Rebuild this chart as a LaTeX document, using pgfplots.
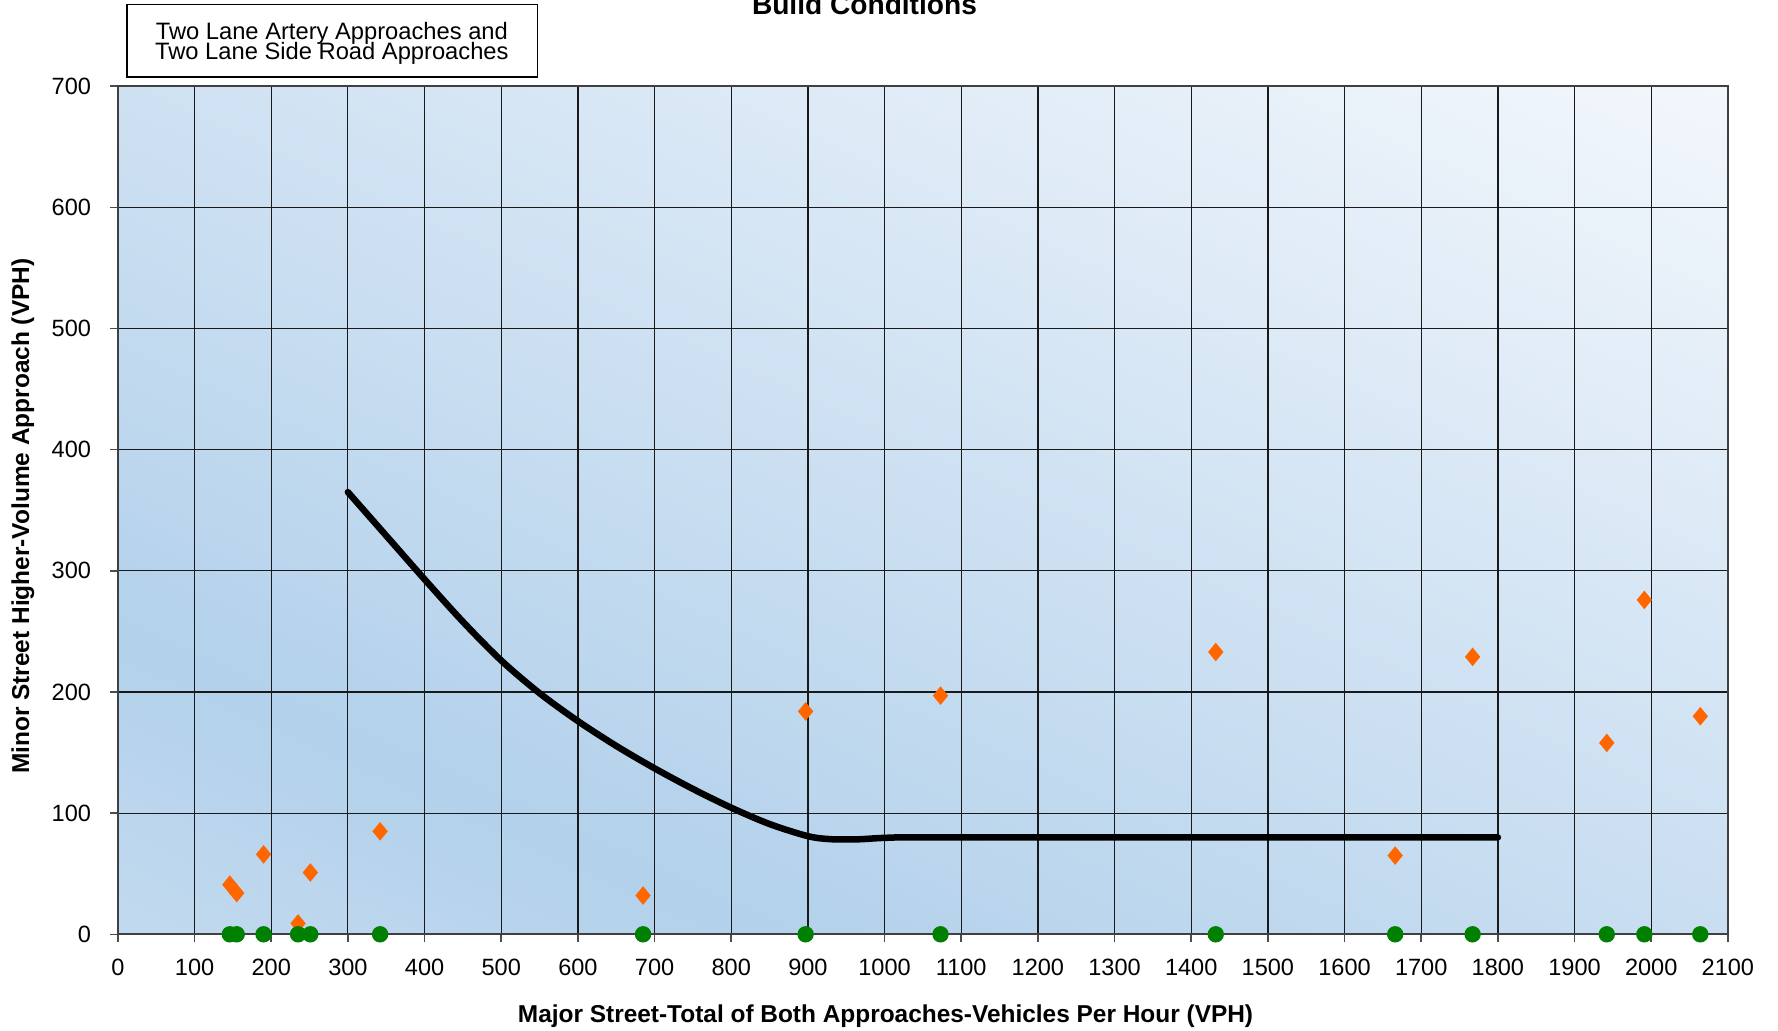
\documentclass[border=0pt]{standalone}
\usepackage{fontspec}
\setmainfont{Liberation Sans}
\usepackage{pgfplots}
\pgfplotsset{compat=1.18}

\definecolor{markorange}{HTML}{FF6600}
\definecolor{markgreen}{HTML}{008000}

% diagonal background: darkest along a band from lower middle to left side,
% lightest at the upper right corner (inner 50bp square = axis box)
\pgfdeclarefunctionalshading{chartbg}{\pgfpointorigin}{\pgfpoint{100bp}{100bp}}{}{
  exch 0.01148 mul exch 0.013111 mul add 0.84438 sub abs
  dup 1 gt {pop 1} if
  dup 0.2510 mul 0.7020 add exch
  dup 0.1490 mul 0.8196 add exch
  0.0667 mul 0.9216 add
}

\begin{document}
\begin{tikzpicture}
\begin{axis}[
  at={(0,0)}, anchor=south west,
  scale only axis, width=161mm, height=84.81mm,
  xmin=0, xmax=2100, ymin=0, ymax=700,
  xtick distance=100, ytick distance=100,
  grid=major,
  major grid style={black!90, line width=0.12mm},
  axis line style={black!75, line width=0.2mm},
  tick align=outside, xtick pos=left, ytick pos=left,
  major tick length=0.75mm,
  tick style={black!70, line width=0.15mm},
  /pgf/number format/assume math mode=true,
  /pgf/number format/1000 sep={},
  ticklabel style={font=\fontsize{6.7}{8}\selectfont},
  xticklabel style={yshift=-0.5mm},
  yticklabel style={xshift=-0.7mm},
  clip=false,
  axis background/.style={shade, shading=chartbg},
  xlabel={Major Street-Total of Both Approaches-Vehicles Per Hour (VPH)},
  ylabel={Minor Street Higher-Volume Approach (VPH)},
  label style={font=\bfseries\fontsize{6.95}{8}\selectfont},
  xlabel style={at={(axis description cs:0.4768,-0.096)}, anchor=center},
  ylabel style={at={(axis description cs:-0.0591,0.493)}, anchor=center},
]

% warrant curve
\addplot[black, line width=0.65mm, smooth, line cap=round] coordinates {
  (300,365) (350,329) (400,293) (450,258) (500,226) (550,199) (600,176)
  (650,155.5) (700,137) (750,120) (800,104.5) (850,91) (900,81) (930,78.5)
  (965,78.4) (1000,79.6) (1050,80) (1400,80) (1800,80)
};

% existing volumes
\addplot[only marks, mark=diamond*, mark size=0.82mm, color=markorange,
  mark options={xscale=1.1}] coordinates {
  (146,41) (155,34) (190,66) (235,9) (251,51) (342,85) (685,32)
  (897,184) (1073,197) (1432,233) (1666,65) (1767,229) (1942,158) (1991,276) (2064,180)
};

% zero line points
\addplot[only marks, mark=*, mark size=0.75mm, color=markgreen] coordinates {
  (146,0) (155,0) (190,0) (235,0) (251,0) (342,0) (685,0)
  (897,0) (1073,0) (1432,0) (1666,0) (1767,0) (1942,0) (1991,0) (2064,0)
};

\node[font=\bfseries\fontsize{8}{9}\selectfont, anchor=base]
  at (axis description cs:0.4637,1.084) {Build Conditions};

\node[draw=black, line width=0.15mm, fill=white, minimum width=41.05mm,
  minimum height=7.25mm, inner sep=0pt]
  at (axis description cs:0.1331,1.0536) {};
\node[inner sep=0pt, anchor=base, font=\fontsize{6.75}{8}\selectfont]
  at (axis description cs:0.1329,1.0553) {Two Lane Artery Approaches and};
\node[inner sep=0pt, anchor=base, font=\fontsize{6.75}{8}\selectfont]
  at (axis description cs:0.1329,1.0317) {Two Lane Side Road Approaches};
\end{axis}
\pgfresetboundingbox
\path[use as bounding box] (-11.79mm,-9.57mm) rectangle (166.01mm,93.43mm);
\end{tikzpicture}
\end{document}
